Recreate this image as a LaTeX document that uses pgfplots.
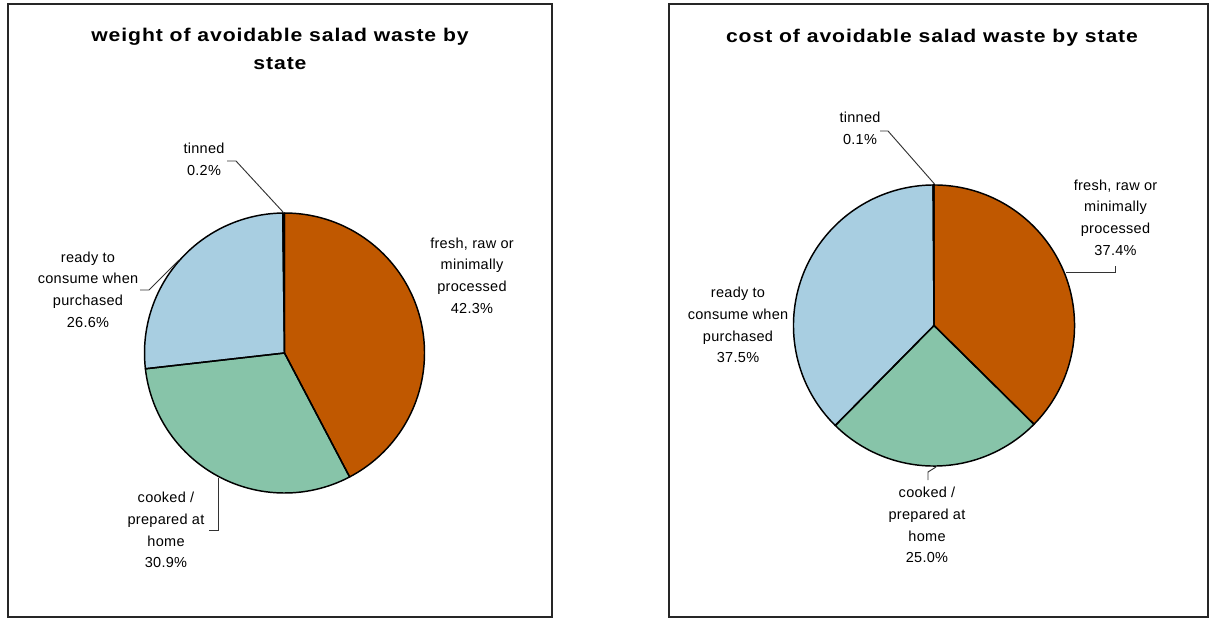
\documentclass[border=0pt]{standalone}
\usepackage{pgfplots}
\pgfplotsset{compat=1.18}
\usepackage{pgfplotstable}
\usepackage{fontspec}
\setmainfont{Liberation Sans}
\newfontfamily\labelfamily{Liberation Sans}[LetterSpace=2]
\newfontfamily\titlefamily{Liberation Sans}[FakeStretch=1.15,LetterSpace=5]
\definecolor{cFresh}{RGB}{192,88,0}
\definecolor{cCooked}{RGB}{135,196,169}
\definecolor{cReady}{RGB}{168,206,225}
\definecolor{cTinned}{RGB}{30,30,30}
\newcommand\labelfont{\labelfamily\fontsize{10.875pt}{16.3pt}\selectfont}
\newcommand\titlefont{\titlefamily\bfseries\fontsize{13.8pt}{21pt}\selectfont}

\pgfplotstableread{
category share
fresh 42.3
cooked 30.9
ready 26.6
tinned 0.2
}\weightdata
\pgfplotstableread{
category share
fresh 37.4
cooked 25.0
ready 37.5
tinned 0.1
}\costdata

\begin{document}%
\begin{tikzpicture}
\pgfplotstablegetelem{0}{share}\of\weightdata \pgfmathsetmacro\WB{90-3.6*\pgfplotsretval}%
\pgfplotstablegetelem{1}{share}\of\weightdata \pgfmathsetmacro\WC{\WB-3.6*\pgfplotsretval}%
\pgfplotstablegetelem{2}{share}\of\weightdata \pgfmathsetmacro\WD{\WC-3.6*\pgfplotsretval}%
\pgfplotstablegetelem{3}{share}\of\weightdata \pgfmathsetmacro\WE{\WD-3.6*\pgfplotsretval}%
\pgfplotstablegetelem{0}{share}\of\costdata \pgfmathsetmacro\CB{90-3.6*\pgfplotsretval}%
\pgfplotstablegetelem{1}{share}\of\costdata \pgfmathsetmacro\CC{\CB-3.6*\pgfplotsretval}%
\pgfplotstablegetelem{2}{share}\of\costdata \pgfmathsetmacro\CD{\CC-3.6*\pgfplotsretval}%
\pgfplotstablegetelem{3}{share}\of\costdata \pgfmathsetmacro\CE{\CD-3.6*\pgfplotsretval}%
\begin{axis}[
  scale only axis, width=906.75pt, height=463.5pt,
  xmin=0, xmax=1209, ymin=0, ymax=618, y dir=reverse,
  hide axis, clip=false]
% frames
\draw[black!85, line width=0.9pt] (axis cs:8,4) rectangle (axis cs:552,617);
\draw[black!85, line width=0.9pt] (axis cs:669,4) rectangle (axis cs:1208,617);
% ---------- left pie (weight) ----------
\def\Rl{105pt}
\fill[cFresh]  (axis cs:284.5,353) -- ++(90:\Rl) arc[start angle=90, end angle=\WB, radius=\Rl] -- cycle;
\fill[cCooked] (axis cs:284.5,353) -- ++(\WB:\Rl) arc[start angle=\WB, end angle=\WC, radius=\Rl] -- cycle;
\fill[cReady]  (axis cs:284.5,353) -- ++(\WC:\Rl) arc[start angle=\WC, end angle=\WD, radius=\Rl] -- cycle;
\fill[cTinned] (axis cs:284.5,353) -- ++(\WD:\Rl) arc[start angle=\WD, end angle=\WE, radius=\Rl] -- cycle;
\begin{scope}[draw=black, line width=1.1pt, line join=round]
\draw (axis cs:284.5,353) -- ++(90:\Rl) arc[start angle=90, end angle=\WB, radius=\Rl] -- cycle;
\draw (axis cs:284.5,353) -- ++(\WB:\Rl) arc[start angle=\WB, end angle=\WC, radius=\Rl] -- cycle;
\draw (axis cs:284.5,353) -- ++(\WC:\Rl) arc[start angle=\WC, end angle=\WD, radius=\Rl] -- cycle;
\draw (axis cs:284.5,353) -- ++(\WD:\Rl) arc[start angle=\WD, end angle=\WE, radius=\Rl] -- cycle;
\end{scope}
% leaders
\draw[black!80, line width=0.7pt] (axis cs:227,161) -- (axis cs:236,161) -- (axis cs:283,212);
\draw[black!80, line width=0.7pt] (axis cs:140,290) -- (axis cs:149,290) -- (axis cs:179,260);
\draw[black!80, line width=0.7pt] (axis cs:209,530) -- (axis cs:218,530) -- (axis cs:218,478);
% labels
\node[font=\titlefont, align=center] at (axis cs:280,49.3) {weight of avoidable salad waste by\\state};
\node[font=\labelfont, align=center] at (axis cs:204,159) {tinned\\0.2\%};
\node[font=\labelfont, align=center] at (axis cs:88,289.5) {ready to\\consume when\\purchased\\26.6\%};
\node[font=\labelfont, align=center] at (axis cs:472,275.5) {fresh, raw or\\minimally\\processed\\42.3\%};
\node[font=\labelfont, align=center] at (axis cs:166,530) {cooked /\\prepared at\\home\\30.9\%};
% ---------- right pie (cost) ----------
\def\Rr{105.4pt}
\fill[cFresh]  (axis cs:934,325.5) -- ++(90:\Rr) arc[start angle=90, end angle=\CB, radius=\Rr] -- cycle;
\fill[cCooked] (axis cs:934,325.5) -- ++(\CB:\Rr) arc[start angle=\CB, end angle=\CC, radius=\Rr] -- cycle;
\fill[cReady]  (axis cs:934,325.5) -- ++(\CC:\Rr) arc[start angle=\CC, end angle=\CD, radius=\Rr] -- cycle;
\fill[cTinned] (axis cs:934,325.5) -- ++(\CD:\Rr) arc[start angle=\CD, end angle=\CE, radius=\Rr] -- cycle;
\begin{scope}[draw=black, line width=1.1pt, line join=round]
\draw (axis cs:934,325.5) -- ++(90:\Rr) arc[start angle=90, end angle=\CB, radius=\Rr] -- cycle;
\draw (axis cs:934,325.5) -- ++(\CB:\Rr) arc[start angle=\CB, end angle=\CC, radius=\Rr] -- cycle;
\draw (axis cs:934,325.5) -- ++(\CC:\Rr) arc[start angle=\CC, end angle=\CD, radius=\Rr] -- cycle;
\draw (axis cs:934,325.5) -- ++(\CD:\Rr) arc[start angle=\CD, end angle=\CE, radius=\Rr] -- cycle;
\end{scope}
\draw[black!80, line width=0.7pt] (axis cs:880,131) -- (axis cs:888,131) -- (axis cs:934.5,184);
\draw[black!80, line width=0.7pt] (axis cs:1115,266) -- (axis cs:1115,272) -- (axis cs:1066,272);
\draw[black!80, line width=0.7pt] (axis cs:928,480) -- (axis cs:928,472) -- (axis cs:936,467);
\node[font=\titlefont, anchor=base] at (axis cs:932,42) {cost of avoidable salad waste by state};
\node[font=\labelfont, align=center] at (axis cs:860,128.5) {tinned\\0.1\%};
\node[font=\labelfont, align=center] at (axis cs:738,325) {ready to\\consume when\\purchased\\37.5\%};
\node[font=\labelfont, align=center] at (axis cs:1115.5,217.5) {fresh, raw or\\minimally\\processed\\37.4\%};
\node[font=\labelfont, align=center] at (axis cs:927,525) {cooked /\\prepared at\\home\\25.0\%};
\end{axis}
\pgfresetboundingbox
\useasboundingbox (0,0) rectangle (906.75pt,463.5pt);
\end{tikzpicture}%
\end{document}
